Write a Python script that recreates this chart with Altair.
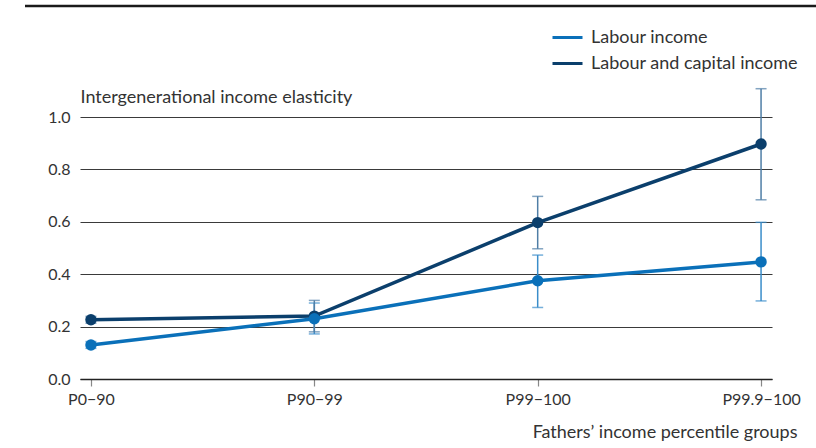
import altair as alt
import pandas as pd

groups = ["P0−90", "P90−99", "P99−100", "P99.9−100"]
series_names = ["Labour income", "Labour and capital income"]

labour = [0.13, 0.23, 0.375, 0.447]
labour_lo = [0.117, 0.172, 0.273, 0.298]
labour_hi = [0.143, 0.29, 0.473, 0.598]

capital = [0.226, 0.24, 0.597, 0.897]
capital_lo = [0.213, 0.18, 0.497, 0.684]
capital_hi = [0.239, 0.30, 0.697, 1.108]

line_colors = ["#0a70b9", "#0b3f6c"]
err_colors = ["#3a8dca", "#4f7ea6"]

rows = []
for s, vals, lo, hi in [
    (series_names[0], labour, labour_lo, labour_hi),
    (series_names[1], capital, capital_lo, capital_hi),
]:
    for g, v, l, h in zip(groups, vals, lo, hi):
        rows.append({"series": s, "group": g, "value": v, "lo": l, "hi": h})
df = pd.DataFrame(rows)

FONT = "Lato"
TXT = "#333333"

x_enc = alt.X(
    "group:N",
    sort=groups,
    scale=alt.Scale(type="point", padding=0.049),
    axis=alt.Axis(
        title="Fathers’ income percentile groups",
        titleAnchor="end",
        titleAlign="right",
        titleX=717,
        titleY=58,
        titleBaseline="alphabetic",
        titleFontWeight="normal",
        titleFontSize=18,
        titleColor=TXT,
        labelAngle=0,
        labelFontSize=16,
        labelColor=TXT,
        labelPadding=5,
        tickSize=7,
        tickColor="#888888",
        tickWidth=1.2,
        domainColor="#222222",
        domainWidth=1.5,
        grid=False,
    ),
)

y_scale = alt.Scale(domain=[0, 1], nice=False, zero=True)
y_axis = alt.Axis(
    title="Intergenerational income elasticity",
    titleAngle=0,
    titleAlign="left",
    titleAnchor="start",
    titleX=0,
    titleY=-15,
    titleBaseline="alphabetic",
    titleFontWeight="normal",
    titleFontSize=18,
    titleColor=TXT,
    values=[0, 0.2, 0.4, 0.6, 0.8, 1.0],
    format=".1f",
    labelFontSize=16,
    labelColor=TXT,
    labelPadding=10,
    ticks=False,
    domain=False,
    grid=True,
    gridColor="#3a3a3a",
    gridWidth=1,
)

base = alt.Chart(df)

color_enc = alt.Color(
    "series:N",
    scale=alt.Scale(domain=series_names, range=line_colors),
    legend=alt.Legend(
        title=None,
        orient="none",
        legendX=471,
        legendY=-92,
        symbolType="stroke",
        symbolSize=900,
        symbolStrokeWidth=3,
        labelFontSize=18,
        labelColor=TXT,
        labelOffset=7,
        labelLimit=0,
        rowPadding=1,
        clipHeight=25,
    ),
)

layers = []
for i, s in enumerate(series_names):
    sub = base.transform_filter(alt.datum.series == s)
    layers.append(
        sub.mark_rule(strokeWidth=1.5, color=err_colors[i]).encode(
            x=x_enc, y=alt.Y("lo:Q", scale=y_scale, axis=y_axis), y2="hi:Q"
        )
    )
    layers.append(
        sub.mark_tick(size=11, thickness=1.5, color=err_colors[i], orient="horizontal").encode(
            x=x_enc, y=alt.Y("lo:Q", scale=y_scale, axis=y_axis)
        )
    )
    layers.append(
        sub.mark_tick(size=11, thickness=1.5, color=err_colors[i], orient="horizontal").encode(
            x=x_enc, y=alt.Y("hi:Q", scale=y_scale, axis=y_axis)
        )
    )

for s in [series_names[1], series_names[0]]:
    sub = base.transform_filter(alt.datum.series == s)
    layers.append(
        sub.mark_line(strokeWidth=3.5).encode(
            x=x_enc, y=alt.Y("value:Q", scale=y_scale, axis=y_axis), color=color_enc
        )
    )
    layers.append(
        sub.mark_circle(size=130, opacity=1).encode(
            x=x_enc, y=alt.Y("value:Q", scale=y_scale, axis=y_axis), color=color_enc
        )
    )

top_rule = alt.Chart(pd.DataFrame({"a": [0]})).mark_rule(
    color="#1a1a1a", strokeWidth=2.5
).encode(x=alt.value(-55), x2=alt.value(736), y=alt.value(-111))
layers.append(top_rule)

chart = (
    alt.layer(*layers)
    .properties(
        width=692,
        height=262,
        autosize=alt.AutoSizeParams(type="none"),
        padding={"left": 80, "top": 117, "right": 44, "bottom": 69},
    )
    .configure(font=FONT)
    .configure_view(stroke=None)
    .configure_axis(labelFont=FONT, titleFont=FONT)
    .configure_legend(labelFont=FONT)
)

chart.save("out.html", embed_options={"renderer": "svg", "actions": False})
